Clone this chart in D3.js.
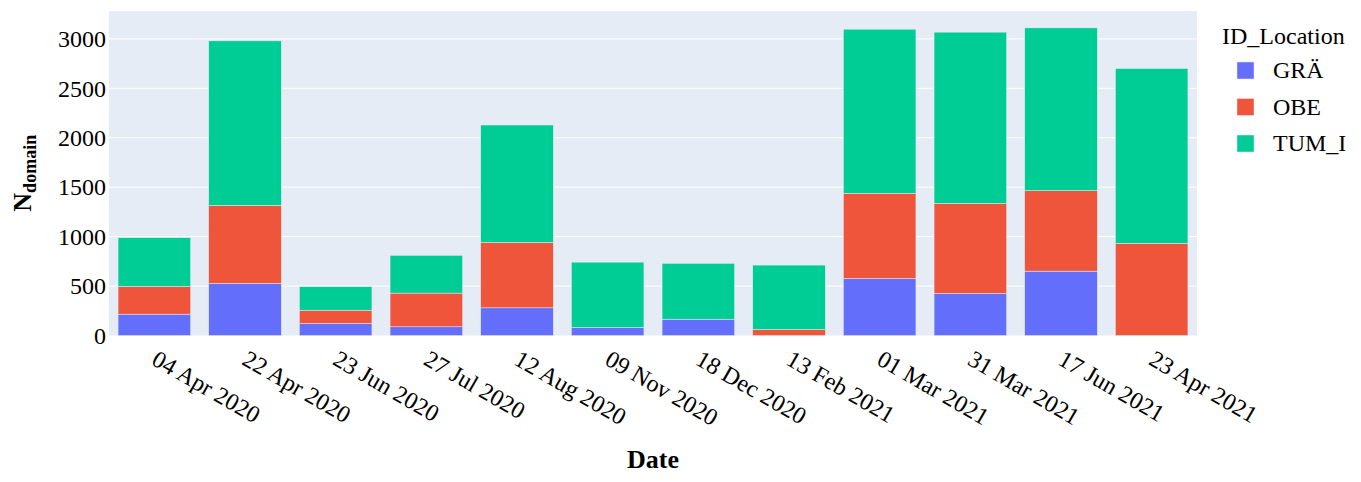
<!DOCTYPE html>
<html>
<head>
<meta charset="utf-8">
<script src="https://cdn.jsdelivr.net/npm/d3@7"></script>
<style>
  body { margin: 0; background: #fff; }
  svg { display: block; }
  text { font-family: "Liberation Serif", "Times New Roman", serif; }
</style>
</head>
<body>
<div id="chart"></div>
<script>
const dates = ["04 Apr 2020","22 Apr 2020","23 Jun 2020","27 Jul 2020","12 Aug 2020","09 Nov 2020","18 Dec 2020","13 Feb 2021","01 Mar 2021","31 Mar 2021","17 Jun 2021","23 Apr 2021"];
const seriesNames = ["GRÄ","OBE","TUM_I"];
const graValues  = [216, 526, 121,  88, 280,  81, 165,   0, 577, 425, 651,   0];
const obeValues  = [280, 790, 135, 341, 661,   0,   0,  61, 861, 911, 814, 931];
const tumValues  = [493,1664, 237, 381,1188, 661, 564, 651,1660,1732,1646,1769];
const yTicks = [0, 500, 1000, 1500, 2000, 2500, 3000];
const colors = ["#636efa", "#EF553B", "#00cc96"];

const W = 1361, H = 482;
const m = {left: 109, right: 1361 - 1197, top: 11, bottom: 482 - 335.5};
const iw = W - m.left - m.right, ih = H - m.top - m.bottom;

const svg = d3.select("#chart").append("svg").attr("width", W).attr("height", H);
const g = svg.append("g").attr("transform", `translate(${m.left},${m.top})`);

const rows = dates.map((d, i) => ({date: d, "GRÄ": graValues[i], "OBE": obeValues[i], "TUM_I": tumValues[i]}));
const stacked = d3.stack().keys(seriesNames)(rows);

const x = d3.scaleBand().domain(dates).range([0, iw]).paddingInner(0.2).paddingOuter(0.1);
const y = d3.scaleLinear().domain([0, 3282]).range([ih, 0]);

g.append("rect").attr("width", iw).attr("height", ih).attr("fill", "#E5ECF6");

// grid
g.selectAll(".grid").data(yTicks.filter(t => t > 0)).enter().append("line")
  .attr("x1", 0).attr("x2", iw).attr("y1", d => y(d)).attr("y2", d => y(d))
  .attr("stroke", "#fff").attr("stroke-width", 1);

// bars
stacked.forEach((s, si) => {
  g.append("g").selectAll("rect").data(s).enter().append("rect")
    .attr("x", d => x(d.data.date))
    .attr("width", x.bandwidth())
    .attr("y", d => y(d[1]))
    .attr("height", d => Math.max(0, y(d[0]) - y(d[1])))
    .attr("fill", colors[si])
    .attr("stroke", "#E5ECF6").attr("stroke-width", 0.5)
    .style("display", d => d[1] - d[0] > 0 ? null : "none");
});

// y axis labels
const yAxis = d3.axisLeft(y).tickValues(yTicks).tickFormat(d3.format("d")).tickSize(0).tickPadding(3);
const ya = g.append("g").call(yAxis);
ya.select(".domain").remove();
ya.attr("font-family", null);
ya.selectAll("text").attr("font-size", 24).attr("fill", "#000")
  .style("font-family", '"Liberation Serif", serif');

// x axis labels
const xa = g.append("g").attr("transform", `translate(0,${ih})`);
xa.selectAll("g").data(dates).enter().append("g")
  .attr("transform", d => `translate(${x(d) + x.bandwidth()/2},${21}) rotate(30)`)
  .append("text").attr("font-size", 24).attr("fill", "#000").attr("dy", "0.35em")
  .attr("text-anchor", "start").text(d => d);

// axis titles
svg.append("text").attr("x", m.left + iw/2).attr("y", 468)
  .attr("text-anchor", "middle").attr("font-size", 26).attr("font-weight", "bold").text("Date");

const yt = svg.append("text").attr("transform", `translate(31,${m.top + ih/2}) rotate(-90)`)
  .attr("text-anchor", "middle").attr("font-size", 26).attr("font-weight", "bold");
yt.append("tspan").text("N");
yt.append("tspan").attr("font-size", 18).attr("dy", 5).text("domain");

// legend
const lg = svg.append("g");
lg.append("text").attr("x", 1222).attr("y", 44).attr("font-size", 24).text("ID_Location");
seriesNames.forEach((n, i) => {
  const cy = 70 + i * 36.5;
  lg.append("rect").attr("x", 1237).attr("y", cy - 8).attr("width", 17).attr("height", 17)
    .attr("fill", colors[i]).attr("stroke", "#E5ECF6").attr("stroke-width", 0.5);
  lg.append("text").attr("x", 1273).attr("y", cy).attr("dy", "0.35em").attr("font-size", 24).text(n);
});
</script>
</body>
</html>
